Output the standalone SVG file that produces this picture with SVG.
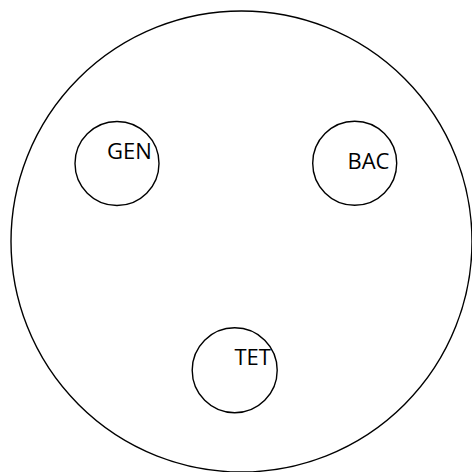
<svg xmlns="http://www.w3.org/2000/svg" width="472" height="472" viewBox="0 0 472 472">
<style>
.c{fill:none;stroke:#000;stroke-width:1.4}
.t{font-family:"Open Sans","Noto Sans",sans-serif;font-size:22px;fill:#000}
</style>
<rect width="472" height="472" fill="#fff"/>
<g id="outer"><circle class="c" cx="241.5" cy="241.5" r="230.5"/></g>
<g id="GEN"><circle class="c" cx="117" cy="163.5" r="42"/><text class="t" x="107" y="158.5">GEN</text></g>
<g id="BAC"><circle class="c" cx="354.7" cy="163.3" r="42"/><text class="t" x="347.5" y="169">BAC</text></g>
<g id="TET"><circle class="c" cx="234.7" cy="370.3" r="42.5"/><text class="t" x="234.5" y="365">TET</text></g>
<g id="connectors"/>
</svg>
